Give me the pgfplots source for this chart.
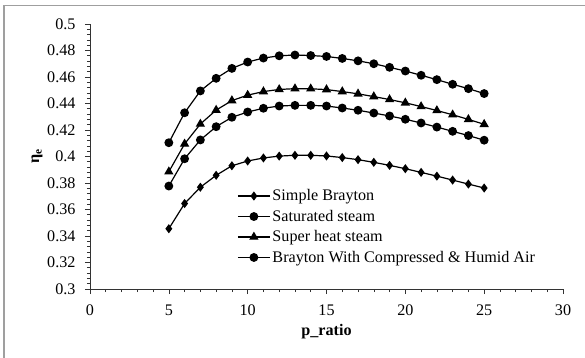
\documentclass[border=0pt]{standalone}
\usepackage{fontspec}
\setmainfont{Liberation Serif}
\usepackage{pgfplots}
\pgfplotsset{compat=1.18}
\begin{document}
\begin{tikzpicture}
\path[use as bounding box] (0,0) rectangle (585bp,358bp);
\draw[gray!75, line width=1.3bp] (4bp,-10bp) -- (4bp,352.5bp) -- (600bp,352.5bp);
\begin{axis}[
  at={(90bp,69bp)}, anchor=south west,
  scale only axis, width=473bp, height=265bp,
  xmin=0, xmax=30, ymin=0.3, ymax=0.5,
  xtick={0,5,...,30}, ytick={0.3,0.32,...,0.5},
  minor x tick num=4, minor y tick num=4,
  axis x line=bottom, axis y line=left,
  axis line style={-, line width=0.8bp, black!80},
  tick align=outside,
  major tick length=5bp, minor tick length=3bp,
  every tick/.style={black!80, line width=0.6bp},
  font=\fontsize{16.2}{19}\selectfont,
  /pgf/number format/assume math mode=true,
  /pgf/number format/.cd, fixed, precision=2, /pgfplots/.cd,
  yticklabel style={xshift=-6bp},
  xticklabel style={yshift=-7bp},
  xlabel={\textbf{p\_ratio}},
  ylabel={\textbf{η\textsubscript{e}}},
  xlabel style={at={(axis description cs:0.5,-0.162)}, anchor=center},
  ylabel style={at={(axis description cs:-0.112,0.5)}, anchor=center},
  legend style={draw=none, fill=none, at={(0.311,0.383)}, anchor=north west,
    font=\fontsize{16.2}{19}\selectfont, row sep=3.8bp, inner sep=0pt},
  legend cell align=left,
  legend image code/.code={\draw[mark repeat=2,mark phase=2,#1] plot coordinates {(0bp,0bp) (16bp,0bp) (32bp,0bp)};},
  every axis plot/.append style={black, line width=1.2bp},
]
\addplot[mark=diamond*, mark size=3.6bp] coordinates {
(5,0.3455) (6,0.3645) (7,0.3768) (8,0.3858) (9,0.3930) (10,0.3966) (11,0.3989) (12,0.4003) (13,0.4009) (14,0.4009) (15,0.4004) (16,0.3992) (17,0.3976) (18,0.3956) (19,0.3933) (20,0.3908) (21,0.3880) (22,0.3852) (23,0.3822) (24,0.3792) (25,0.3762)};
\addlegendentry{Simple Brayton}
\addplot[mark=*, mark size=3.8bp] coordinates {
(5,0.3777) (6,0.3983) (7,0.4125) (8,0.4225) (9,0.4296) (10,0.4336) (11,0.4364) (12,0.4381) (13,0.4386) (14,0.4386) (15,0.4381) (16,0.4366) (17,0.4349) (18,0.4328) (19,0.4306) (20,0.4281) (21,0.4253) (22,0.4222) (23,0.4190) (24,0.4158) (25,0.4123)};
\addlegendentry{Saturated steam}
\addplot[mark=triangle*, mark size=4.2bp] coordinates {
(5,0.3885) (6,0.4095) (7,0.4245) (8,0.4350) (9,0.4422) (10,0.4463) (11,0.4490) (12,0.4506) (13,0.4512) (14,0.4511) (15,0.4505) (16,0.4490) (17,0.4473) (18,0.4452) (19,0.4430) (20,0.4405) (21,0.4377) (22,0.4347) (23,0.4315) (24,0.4280) (25,0.4243)};
\addlegendentry{Super heat steam}
\addplot[mark=*, mark size=3.8bp] coordinates {
(5,0.4104) (6,0.4330) (7,0.4495) (8,0.4590) (9,0.4665) (10,0.4713) (11,0.4743) (12,0.4760) (13,0.4766) (14,0.4762) (15,0.4755) (16,0.4740) (17,0.4722) (18,0.4700) (19,0.4673) (20,0.4645) (21,0.4613) (22,0.4580) (23,0.4545) (24,0.4512) (25,0.4475)};
\addlegendentry{Brayton With Compressed \& Humid Air}
\end{axis}
\end{tikzpicture}
\end{document}
